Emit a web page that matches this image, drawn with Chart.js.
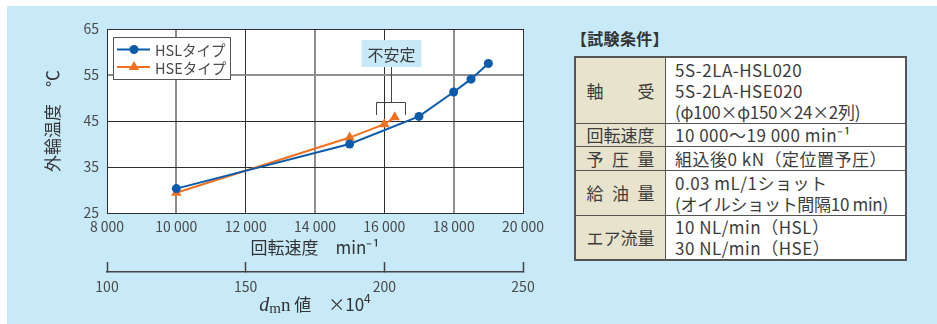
<!DOCTYPE html>
<html lang="ja">
<head>
<meta charset="utf-8">
<script src="https://cdn.jsdelivr.net/npm/chart.js@4.4.1/dist/chart.umd.min.js"></script>
<style>
  html, body { margin: 0; padding: 0; background: #fff; }
  body { width: 937px; height: 324px; position: relative; overflow: hidden; font-family: "Noto Sans CJK JP", sans-serif; }
  #panel { position: absolute; left: 7px; top: 6px; width: 930px; height: 318px; background: #c7e9f8; }
  #chart { position: absolute; left: 0; top: 0; }
  #cond-title { position: absolute; left: 571px; top: 27px; font-size: 16px; font-weight: bold; color: #333; line-height: 22px; letter-spacing: 0.3px; }
  #cond { position: absolute; left: 574px; top: 56px; width: 333px; border-collapse: collapse; border: 2px solid #555; color: #3c3c3c; font-size: 17px; }
  #cond th, #cond td { border: 1px solid #555; padding: 0; line-height: 21px; vertical-align: middle; }
  #cond th { width: 89px; background: #e7e3cd; font-weight: normal; text-align: center; }
  #cond td { background: #fff; padding-left: 9px; text-align: left; white-space: nowrap; letter-spacing: 0.5px; }
  #cond .tight { letter-spacing: -0.3px; }
  .lbl { display: inline-block; width: 68px; text-align: justify; text-align-last: justify; }
</style>
</head>
<body>
<div id="panel"></div>
<canvas id="chart" width="560" height="324"></canvas>

<div id="cond-title">【試験条件】</div>
<table id="cond">
  <tr style="height:66px"><th><span class="lbl">軸受</span></th><td>5S-2LA-HSL020<br>5S-2LA-HSE020<br><span class="tight">(φ100×φ150×24×2列)</span></td></tr>
  <tr style="height:23px"><th><span class="lbl">回転速度</span></th><td>10 000〜19 000 min⁻¹</td></tr>
  <tr style="height:24px"><th><span class="lbl">予圧量</span></th><td>組込後0 kN（定位置予圧）</td></tr>
  <tr style="height:45px"><th><span class="lbl">給油量</span></th><td>0.03 mL/1ショット<br><span class="tight">(オイルショット間隔10 min)</span></td></tr>
  <tr style="height:45px"><th><span class="lbl">エア流量</span></th><td>10 NL/min（HSL）<br>30 NL/min（HSE）</td></tr>
</table>

<script>
// data
const seriesNames = ['HSLタイプ', 'HSEタイプ'];
const hslSpeed = [10000, 15000, 17000, 18000, 18500, 19000];
const hslTemp = [30.3, 40.0, 46.0, 51.3, 54.1, 57.5];
const hseSpeed = [10000, 15000, 16000, 16300];
const hseTemp = [29.4, 41.4, 44.3, 45.8];

const speedTicks = [8000, 10000, 12000, 14000, 16000, 18000, 20000];
const tempTicks = [25, 35, 45, 55, 65];
const dmnTicks = [100, 150, 200, 250];

const BLUE = '#0a5cab';
const ORANGE = '#f07020';
const TEXT = '#4a4a4a';
const JP = '"Noto Sans CJK JP", sans-serif';

const toPoints = (xs, ys) => xs.map((x, i) => ({ x: x, y: ys[i] }));

// grid lines that look lighter / thicker in the original
const lightSpeed = [10000, 14000, 18000];
const lightTemp = [55];

function fmtSpeed(v) {
  const s = String(v);
  return s.slice(0, s.length - 3) + ' ' + s.slice(-3);
}

function drawMarker(ctx, style, x, y, color) {
  ctx.fillStyle = color;
  ctx.beginPath();
  if (style === 'circle') {
    ctx.arc(x, y, 4.5, 0, Math.PI * 2);
  } else {
    const r = 6;
    ctx.moveTo(x, y - r);
    ctx.lineTo(x + r * 0.866, y + r * 0.5);
    ctx.lineTo(x - r * 0.866, y + r * 0.5);
    ctx.closePath();
  }
  ctx.fill();
}

const extras = {
  id: 'extras',
  beforeDraw(chart) {
    const { ctx, chartArea: a } = chart;
    ctx.save();
    ctx.fillStyle = '#fff';
    ctx.fillRect(a.left, a.top, a.right - a.left, a.bottom - a.top);
    ctx.restore();
  },
  afterDraw(chart) {
    const { ctx, chartArea: a, scales } = chart;
    const xs = scales.x, ys = scales.y;
    ctx.save();

    // legend
    const lx = a.left + 6, ly = a.top + 8;
    ctx.fillStyle = '#fff';
    ctx.fillRect(lx, ly, 117, 42);
    ctx.strokeStyle = '#555';
    ctx.lineWidth = 1;
    ctx.strokeRect(Math.round(lx) + 0.5, Math.round(ly) + 0.5, 117, 42);
    chart.data.datasets.forEach((ds, i) => {
      const cy = ly + 12.5 + i * 17.5;
      ctx.strokeStyle = ds.borderColor;
      ctx.lineWidth = 2;
      ctx.beginPath();
      ctx.moveTo(lx + 4, cy);
      ctx.lineTo(lx + 37, cy);
      ctx.stroke();
      drawMarker(ctx, ds.pointStyle, lx + 21, cy, ds.borderColor);
      ctx.fillStyle = TEXT;
      ctx.font = '14.5px ' + JP;
      ctx.textAlign = 'left';
      ctx.textBaseline = 'middle';
      ctx.fillText(ds.label, lx + 42, cy + 1);
    });

    // 不安定 callout
    const stemX = Math.round(xs.getPixelForValue(16180)) + 0.5;
    const brL = Math.round(xs.getPixelForValue(15760)) + 0.5;
    const brR = Math.round(xs.getPixelForValue(16610)) + 0.5;
    const brY = Math.round(ys.getPixelForValue(49.2)) + 0.5;
    const brEnd = ys.getPixelForValue(46.3);
    const boxTop = ys.getPixelForValue(62.6);
    ctx.font = '16px ' + JP;
    const tw = ctx.measureText('不安定').width;
    const bw = tw + 12, bh = 27;
    ctx.fillStyle = '#c7e9f8';
    ctx.fillRect(stemX - bw / 2, boxTop, bw, bh);
    ctx.fillStyle = '#3a3a3a';
    ctx.textAlign = 'center';
    ctx.textBaseline = 'middle';
    ctx.fillText('不安定', stemX, boxTop + bh / 2 + 1);
    ctx.strokeStyle = '#444';
    ctx.lineWidth = 1;
    ctx.beginPath();
    ctx.moveTo(stemX, boxTop + bh);
    ctx.lineTo(stemX, brY);
    ctx.moveTo(brL, brEnd);
    ctx.lineTo(brL, brY);
    ctx.lineTo(brR, brY);
    ctx.lineTo(brR, brEnd);
    ctx.stroke();

    // dmn value axis title
    const parts = [
      { t: 'd', f: 'italic 20px "Liberation Serif", serif', dy: 0 },
      { t: 'm', f: '15px "Liberation Serif", serif', dy: 2 },
      { t: 'n', f: '19px "Liberation Serif", serif', dy: 0 },
      { t: ' 値', f: '17px ' + JP, dy: 0 },
      { t: '　×10', f: '17px ' + JP, dy: 0 },
      { t: '4', f: '12px ' + JP, dy: -8 }
    ];
    let total = 0;
    parts.forEach(p => { ctx.font = p.f; p.w = ctx.measureText(p.t).width; total += p.w; });
    let px = (a.left + a.right) / 2 - total / 2;
    const base = 311;
    ctx.fillStyle = '#333';
    ctx.textAlign = 'left';
    ctx.textBaseline = 'alphabetic';
    parts.forEach(p => {
      ctx.font = p.f;
      ctx.fillText(p.t, px, base + p.dy);
      px += p.w;
    });
    ctx.restore();
  }
};

new Chart(document.getElementById('chart'), {
  type: 'line',
  data: {
    datasets: [
      {
        label: seriesNames[0],
        data: toPoints(hslSpeed, hslTemp),
        borderColor: BLUE,
        backgroundColor: BLUE,
        borderWidth: 2,
        pointStyle: 'circle',
        pointRadius: 4.5,
        pointBorderWidth: 0,
        tension: 0
      },
      {
        label: seriesNames[1],
        data: toPoints(hseSpeed, hseTemp),
        borderColor: ORANGE,
        backgroundColor: ORANGE,
        borderWidth: 2,
        pointStyle: 'triangle',
        pointRadius: 6,
        pointBorderWidth: 0,
        tension: 0
      }
    ]
  },
  options: {
    responsive: false,
    animation: false,
    layout: { padding: { left: 0, top: 29, right: 37, bottom: 0 } },
    plugins: {
      legend: { display: false },
      tooltip: { enabled: false }
    },
    scales: {
      x: {
        type: 'linear',
        position: 'bottom',
        min: speedTicks[0],
        max: speedTicks[speedTicks.length - 1],
        afterBuildTicks: s => { s.ticks = speedTicks.map(v => ({ value: v })); },
        ticks: {
          padding: 5,
          color: TEXT,
          font: { family: JP, size: 14 },
          callback: v => fmtSpeed(v)
        },
        grid: {
          drawTicks: false,
          color: c => (c.tick && lightSpeed.includes(c.tick.value)) ? '#8e8e8e' : '#2e2e2e',
          lineWidth: c => (c.tick && lightSpeed.includes(c.tick.value)) ? 2 : 1
        },
        border: { color: '#2e2e2e', width: 1 },
        title: {
          display: true,
          text: '回転速度　min⁻¹',
          color: '#333',
          font: { family: JP, size: 17 },
          padding: { top: 0, bottom: 14 }
        },
        afterFit: s => { s.height = 59; }
      },
      x2: {
        type: 'linear',
        position: 'bottom',
        min: dmnTicks[0],
        max: dmnTicks[dmnTicks.length - 1],
        afterBuildTicks: s => { s.ticks = dmnTicks.map(v => ({ value: v })); },
        ticks: {
          padding: 16,
          color: TEXT,
          font: { family: JP, size: 14 }
        },
        grid: {
          drawOnChartArea: false,
          drawTicks: true,
          tickLength: -10,
          tickColor: '#444',
          tickWidth: 1.5
        },
        border: { color: '#444', width: 1.5 },
        afterFit: s => { s.height = 52; }
      },
      y: {
        type: 'linear',
        min: tempTicks[0],
        max: tempTicks[tempTicks.length - 1],
        afterBuildTicks: s => { s.ticks = tempTicks.map(v => ({ value: v })); },
        ticks: {
          padding: 8,
          color: TEXT,
          font: { family: JP, size: 14 }
        },
        grid: {
          drawTicks: false,
          color: c => (c.tick && lightTemp.includes(c.tick.value)) ? '#8e8e8e' : '#2e2e2e',
          lineWidth: c => (c.tick && lightTemp.includes(c.tick.value)) ? 2 : 1
        },
        border: { color: '#2e2e2e', width: 1 },
        title: {
          display: true,
          text: '外輪温度　℃',
          color: '#333',
          font: { family: JP, size: 17 },
          padding: { top: 42, bottom: 0 }
        },
        afterFit: s => { s.width = 107; }
      }
    }
  },
  plugins: [extras]
});
</script>
</body>
</html>
